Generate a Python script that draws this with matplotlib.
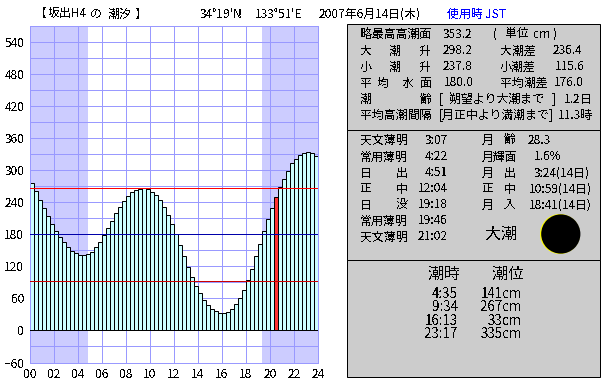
import numpy as np
import matplotlib
matplotlib.use('Agg')
import matplotlib.pyplot as plt
from matplotlib.patches import Rectangle, Circle

plt.rcParams['font.family'] = ['Noto Sans CJK JP', 'DejaVu Sans']
plt.rcParams['text.antialiased'] = False

# 20 min steps
tide = [276, 261, 244, 229, 214, 199, 186, 175, 166, 156, 149, 145,
        141, 141, 143, 147, 156, 166, 179, 192, 205, 220, 231, 243,
        252, 259, 263, 265, 266, 265, 259, 254, 244, 231, 216, 199,
        181, 160, 139, 119, 100, 83, 70, 57, 47, 40, 36, 32,
        32, 34, 40, 49, 60, 75, 94, 115, 139, 162, 186, 209,
        229, 250, 269, 284, 299, 314, 321, 329, 333, 335, 333, 327]
now_bar = 61
high_line = 267
mean_line = 180
low_line = 92
sunrise = 4.83
sunset = 19.33
yticks = list(range(-60, 541, 60))
xticks = list(range(0, 25, 2))

W, H = 610, 385
BG = '#ccccff'
GRID = '#9999ff'
LW = 0.72

fig = plt.figure(figsize=(W/100, H/100), dpi=100, facecolor='white')

#=================== tide chart ===================#
ax = fig.add_axes([30/W, 1-362.5/H, 288/W, 336.5/H])
ax.set_xlim(0, 24)
ax.set_ylim(-60, 570)
ax.axvspan(0, sunrise, color=BG, lw=0, zorder=0)
ax.axvspan(sunset, 24, color=BG, lw=0, zorder=0)
for x in xticks:
    ax.axvline(x, color=GRID, lw=LW, zorder=1)
for y in range(-60, 571, 30):
    ax.axhline(y, color=GRID, lw=LW, zorder=1)

t = np.arange(len(tide))/3
colors = ['#ff3333' if i == now_bar else '#ccffff' for i in range(len(tide))]
bars = ax.bar(t, tide, width=1/3, align='edge', color=colors, edgecolor='black', lw=LW, zorder=2)
for b in bars:
    b.set_snap(True)
ax.axhline(0, color='black', lw=LW, zorder=3)
ax.axhline(high_line, color='#ff0000', lw=LW, zorder=4)
ax.axhline(mean_line, color='#0000aa', lw=LW, zorder=4)
ax.axhline(low_line, color='#cc0000', lw=LW, zorder=4)

ax.set_xticks(xticks)
ax.set_xticklabels(['%02d' % x for x in xticks])
ax.set_yticks(yticks)
ax.tick_params(length=0, labelsize=8.6, pad=4)
for s in ax.spines.values():
    s.set_color(GRID)
    s.set_linewidth(LW)

#=================== pixel overlay ===================#
ov = fig.add_axes([0, 0, 1, 1], facecolor='none')
ov.set_xlim(0, W)
ov.set_ylim(H, 0)
ov.axis('off')

def put(x, y, s, size=8.6, ha='left', color='black'):
    ov.text(x, y, s, fontsize=size, ha=ha, va='center', color=color)

for x, s in [(35, '【'), (48, '坂出H4'), (90, 'の'), (108, '潮汐'), (135, '】')]:
    put(x, 14, s)
put(200, 14, "34°19'N")
put(255, 14, "133°51'E")
put(319, 14, '2007年6月14日(木)')
put(447, 14, '使用時 JST', color='#0000ff')

for top, bottom in [(24, 130), (130, 260), (260, 377)]:
    ov.add_patch(Rectangle((347, top), 253, bottom-top, fc='#cccccc', ec='black', lw=LW, snap=True))

#=================== panel 1 ===================#
panel1 = [
    (34, [(360, '略最高高潮面'), (443, '353.2'), (493, '('), (505, '単位'), (533, 'cm'), (553, ')')]),
    (51, [(360, '大'), (389, '潮'), (420, '升'), (443, '298.2'), (500, '大潮差'), (553, '236.4')]),
    (67, [(360, '小'), (389, '潮'), (420, '升'), (443, '237.8'), (500, '小潮差'), (555, '115.6')]),
    (83, [(360, '平'), (377, '均'), (402, '水'), (420, '面'), (444, '180.0'), (500, '平均潮差'), (554, '176.0')]),
    (99, [(360, '潮'), (420, '齢'), (439, '['), (449, '朔望より大潮まで'), (552, ']'), (564, '1.2日')]),
    (115, [(360, '平均高潮間隔'), (439, '[月正中より満潮まで]'), (558, '11.3時')]),
]
for y, row in panel1:
    for x, s in row:
        put(x, y, s)

#=================== panel 2 ===================#
sun_rows = [(140, ['天文薄明'], '3:07'), (157, ['常用薄明'], '4:22'), (173, ['日', '出'], '4:51'),
            (189, ['正', '中'], '12:04'), (205, ['日', '没'], '19:18'), (221, ['常用薄明'], '19:46'),
            (237, ['天文薄明'], '21:02')]
for y, label, tm in sun_rows:
    put(360, y, label[0])
    if len(label) > 1:
        put(396, y, label[1])
    put(448, y, tm, ha='right')

moon_rows = [(140, ['月', '齢'], '28.3', 528), (157, ['月輝面'], '1.6%', 534), (173, ['月', '出'], '3:24(14日)', 534),
             (189, ['正', '中'], '10:59(14日)', 529), (205, ['月', '入'], '18:41(14日)', 529)]
for y, label, val, x in moon_rows:
    put(482, y, label[0])
    if len(label) > 1:
        put(504, y, label[1])
    put(x, y, val)

put(485, 234, '大潮', size=11.5)
ov.add_patch(Circle((560, 234), 20, fc='#ffff00', ec='none'))
ov.add_patch(Circle((560.8, 234), 19.6, fc='black', ec='none'))

#=================== panel 3 ===================#
tide_times = ['4:35', '9:34', '16:13', '23:17']
tide_levels = ['141cm', '267cm', '33cm', '335cm']
put(428, 274, '潮時', size=11.5)
put(492, 274, '潮位', size=11.5)
for i in range(len(tide_times)):
    y = 294 + i*13.3
    put(458, y, tide_times[i], size=9.6, ha='right')
    put(522, y, tide_levels[i], size=9.6, ha='right')

fig.savefig('out.png', dpi=100)
